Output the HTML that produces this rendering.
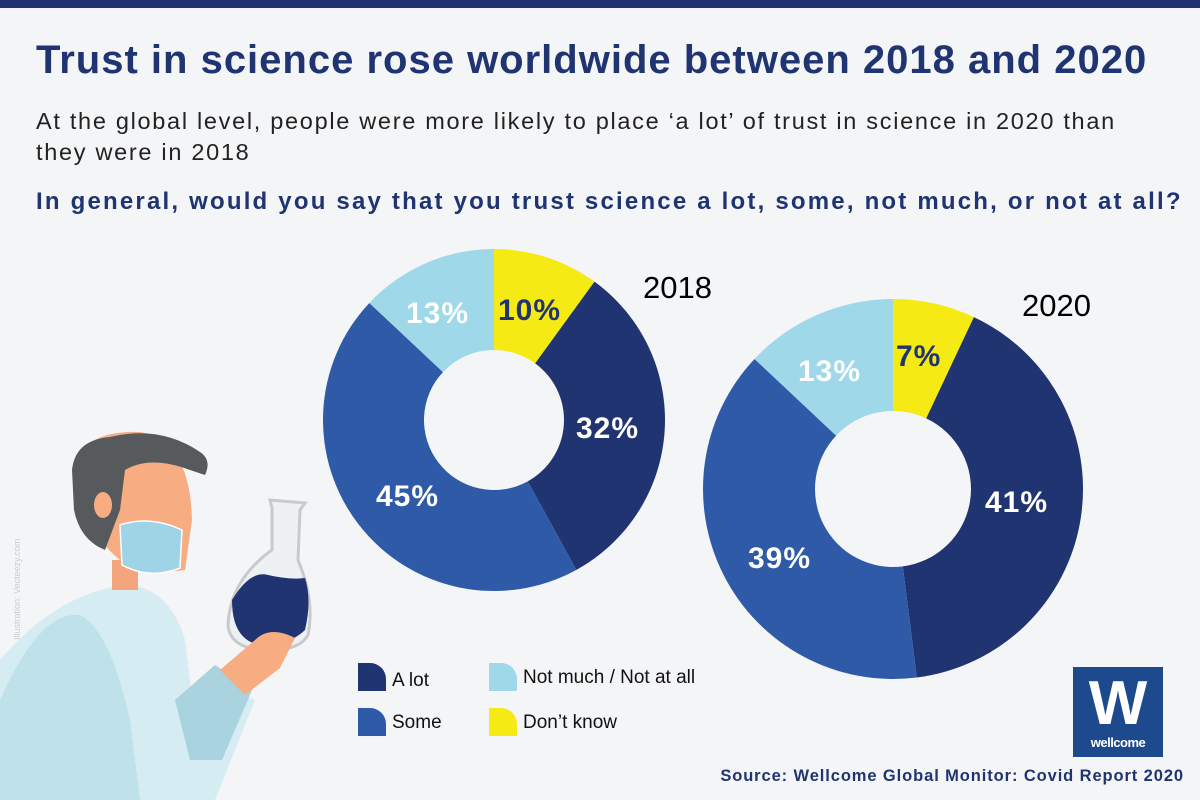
<!DOCTYPE html>
<html><head><meta charset="utf-8"><style>
body{margin:0;width:1200px;height:800px;overflow:hidden;background:#f4f5f7;font-family:"Liberation Sans",sans-serif;position:relative}
.a{position:absolute;white-space:nowrap}
.t{left:36px;top:38px;font-size:40px;letter-spacing:1px;font-weight:bold;color:#1f3470}
.s{left:36px;top:106px;font-size:23.5px;letter-spacing:1.7px;color:#222;line-height:31px}
.q{left:36px;top:188px;font-size:24px;letter-spacing:2.2px;font-weight:bold;color:#1f3470}
.yr{font-size:31px;color:#000}
.lb{font-size:30px;font-weight:bold;color:#fff;letter-spacing:1px}
.lg{font-size:19px;color:#111}
</style></head><body>
<div class="a" style="left:0;top:0;width:1200px;height:8px;background:#1f3470"></div>
<div class="a t">Trust in science rose worldwide between 2018 and 2020</div>
<div class="a s">At the global level, people were more likely to place ‘a lot’ of trust in science in 2020 than<br>they were in 2018</div>
<div class="a q">In general, would you say that you trust science a lot, some, not much, or not at all?</div>
<svg class="a" style="left:0;top:0" width="1200" height="800" id="sv">
<g id="ill">
<path d="M0 800 L0 660 Q60 590 130 585 Q170 590 185 640 L200 760 L230 690 L255 700 L215 800Z" fill="#d5ecf3"/>
<path d="M0 800 L0 700 Q40 610 80 615 Q110 630 130 720 L140 800Z" fill="#bfe1ea"/>
<path d="M175 700 L215 665 L252 690 L222 760 L190 760Z" fill="#a9d3df"/>
<rect x="112" y="560" width="26" height="30" fill="#f5a57d"/>
<path d="M75 460 Q90 430 140 432 Q190 440 192 520 L185 570 Q150 575 120 560 Q95 540 95 520 Z" fill="#f7ac82"/>
<path d="M72 470 Q75 440 110 437 Q160 425 200 452 Q212 460 205 475 L190 470 Q150 455 125 470 L120 510 L105 550 Q80 540 74 510Z" fill="#565a5c"/>
<ellipse cx="103" cy="505" rx="9" ry="13" fill="#f7ac82"/>
<path d="M120 525 Q150 515 182 530 L180 568 Q150 580 122 565Z" fill="#9fd3e6" stroke="#fff" stroke-width="1.5"/>
<path d="M270 500 L305 503 L300 510 L298 560 Q315 600 308 635 Q300 650 270 650 Q230 650 228 625 Q230 580 272 550 L272 508Z" fill="#eef1f3" stroke="#c8cacc" stroke-width="3"/>
<path d="M232 600 Q250 570 268 575 Q290 580 305 578 Q312 600 305 630 Q290 645 260 645 Q232 640 232 600Z" fill="#1f3470"/>
<path d="M220 670 L255 640 Q270 625 295 638 L280 668 L245 695Z" fill="#f7ac82"/>
</g>
<text x="20" y="640" transform="rotate(-90 20 640)" font-size="9" fill="#ccc" font-family="Liberation Sans">Illustration: Vecteezy.com</text>
</svg>
<div class="a yr" style="left:643px;top:270px">2018</div>
<div class="a yr" style="left:1022px;top:288px">2020</div>
<div class="a lb" style="left:406px;top:297px">13%</div>
<div class="a lb" style="left:498px;top:294px;color:#1f3470">10%</div>
<div class="a lb" style="left:576px;top:412px">32%</div>
<div class="a lb" style="left:376px;top:480px">45%</div>
<div class="a lb" style="left:798px;top:355px">13%</div>
<div class="a lb" style="left:896px;top:340px;color:#1f3470">7%</div>
<div class="a lb" style="left:985px;top:486px">41%</div>
<div class="a lb" style="left:748px;top:542px">39%</div>
<div class="a" style="left:358px;top:663px;width:28px;height:28px;background:#1f3470;border-top-right-radius:16px"></div>
<div class="a" style="left:358px;top:708px;width:28px;height:28px;background:#2e5aa8;border-top-right-radius:16px"></div>
<div class="a" style="left:489px;top:663px;width:28px;height:28px;background:#9fd8e8;border-top-right-radius:16px"></div>
<div class="a" style="left:489px;top:708px;width:28px;height:28px;background:#f5ea14;border-top-right-radius:16px"></div>
<div class="a lg" style="left:392px;top:670px">A lot</div>
<div class="a lg" style="left:392px;top:712px">Some</div>
<div class="a lg" style="left:523px;top:667px">Not much / Not at all</div>
<div class="a lg" style="left:523px;top:712px">Don’t know</div>
<div class="a" style="left:1073px;top:667px;width:90px;height:90px;background:#1d4a8c;color:#fff;text-align:center">
<div style="font-size:62px;font-weight:bold;line-height:62px;margin-top:6px">W</div>
<div style="font-size:13px;font-weight:bold;letter-spacing:-0.5px">wellcome</div></div>
<div class="a" style="right:16px;top:767px;font-size:16.5px;letter-spacing:0.9px;font-weight:bold;color:#1f3470">Source: Wellcome Global Monitor: Covid Report 2020</div>
<script>
var sv=document.getElementById('sv'),C=['#f5ea14','#1f3470','#2e5aa8','#9fd8e8'];
function donut(cx,cy,R,r,v){var a=0;v.forEach(function(p,i){var a0=a*2*Math.PI,a1=(a+p)*2*Math.PI;a+=p;
function pt(rr,t){return (cx+rr*Math.sin(t)).toFixed(2)+' '+(cy-rr*Math.cos(t)).toFixed(2)}
var L=p>0.5?1:0;var e=document.createElementNS('http://www.w3.org/2000/svg','path');
e.setAttribute('d','M'+pt(R,a0)+' A'+R+' '+R+' 0 '+L+' 1 '+pt(R,a1)+' L'+pt(r,a1)+' A'+r+' '+r+' 0 '+L+' 0 '+pt(r,a0)+'Z');
e.setAttribute('fill',C[i]);sv.appendChild(e);});}
donut(494,420,171,70,[.10,.32,.45,.13]);
donut(893,489,190,78,[.07,.41,.39,.13]);
</script>
</body></html>
